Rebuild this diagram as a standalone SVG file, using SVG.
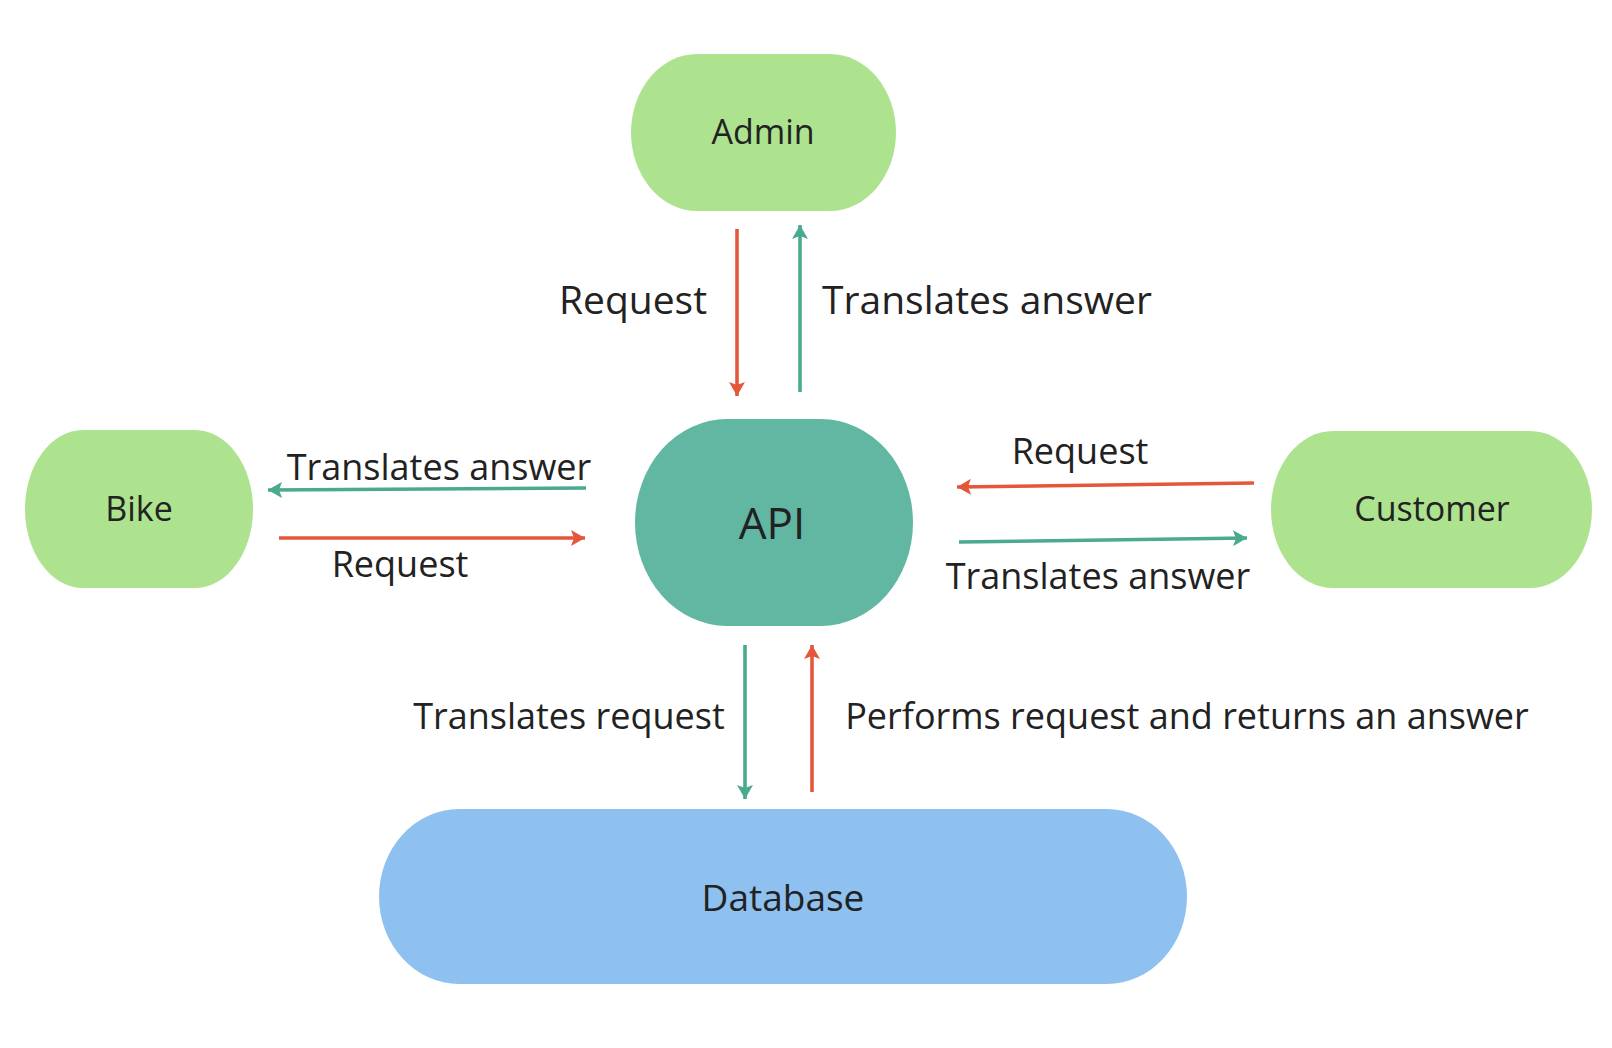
<svg xmlns="http://www.w3.org/2000/svg" width="1612" height="1048" viewBox="0 0 1612 1048">
  <style>
    text { font-family: "Open Sans", "Noto Sans", "DejaVu Sans", sans-serif; fill: #222222; text-anchor: middle; }
    .user { fill: #ade38f; }
    .api { fill: #62b7a3; }
    .db { fill: #8ec1f0; }
    .req { stroke: #e4573a; stroke-width: 3.6; fill: none; marker-end: url(#headRed); }
    .ans { stroke: #4aa98f; stroke-width: 3.6; fill: none; marker-end: url(#headTeal); }
    .node { font-size: 34px; }
    .lbl { font-size: 36px; }
    .lblBig { font-size: 39px; }
  </style>
  <defs>
    <marker id="headRed" viewBox="0 0 14 16" refX="14" refY="8" markerWidth="14" markerHeight="16" markerUnits="userSpaceOnUse" orient="auto">
      <path d="M0,0 L14,8 L0,16 L3,8 Z" fill="#e4573a"/>
    </marker>
    <marker id="headTeal" viewBox="0 0 14 16" refX="14" refY="8" markerWidth="14" markerHeight="16" markerUnits="userSpaceOnUse" orient="auto">
      <path d="M0,0 L14,8 L0,16 L3,8 Z" fill="#4aa98f"/>
    </marker>
  </defs>
  <rect width="1612" height="1048" fill="#ffffff"/>

  <g id="admin">
    <rect class="user" x="631" y="54" width="265" height="157" rx="66" ry="78.5"/>
    <text class="node" x="763" y="144">Admin</text>
  </g>
  <g id="bike">
    <rect class="user" x="25" y="430" width="228" height="158" rx="58" ry="79"/>
    <text class="node" x="139" y="521">Bike</text>
  </g>
  <g id="customer">
    <rect class="user" x="1271" y="431" width="321" height="157" rx="62" ry="78.5"/>
    <text class="node" x="1432" y="521">Customer</text>
  </g>
  <g id="api">
    <rect class="api" x="635" y="419" width="278" height="207" rx="92" ry="103.5"/>
    <text x="772" y="539" font-size="44">API</text>
  </g>
  <g id="database">
    <rect class="db" x="379" y="809" width="808" height="175" rx="80" ry="87.5"/>
    <text x="783" y="911" font-size="37">Database</text>
  </g>

  <g id="connectors">
    <line class="req" x1="737" y1="229" x2="737" y2="396"/>
    <line class="ans" x1="800" y1="392" x2="800" y2="225"/>
    <line class="ans" x1="586" y1="488" x2="268" y2="490"/>
    <line class="req" x1="279" y1="538" x2="585" y2="538"/>
    <line class="req" x1="1254" y1="483" x2="957" y2="487"/>
    <line class="ans" x1="959" y1="542" x2="1247" y2="538"/>
    <line class="ans" x1="745" y1="645" x2="745" y2="799"/>
    <line class="req" x1="812" y1="792" x2="812" y2="645"/>
  </g>

  <g id="labels">
    <text class="lblBig" x="633" y="314">Request</text>
    <text class="lblBig" x="987" y="314">Translates answer</text>
    <text class="lbl" x="439" y="480" font-size="35">Translates answer</text>
    <text class="lbl" x="400" y="577" font-size="35">Request</text>
    <text class="lbl" x="1080" y="464" font-size="35">Request</text>
    <text class="lbl" x="1098" y="589" font-size="35">Translates answer</text>
    <text class="lbl" x="569" y="729">Translates request</text>
    <text class="lbl" x="1187" y="729" font-size="35.8">Performs request and returns an answer</text>
  </g>
</svg>
